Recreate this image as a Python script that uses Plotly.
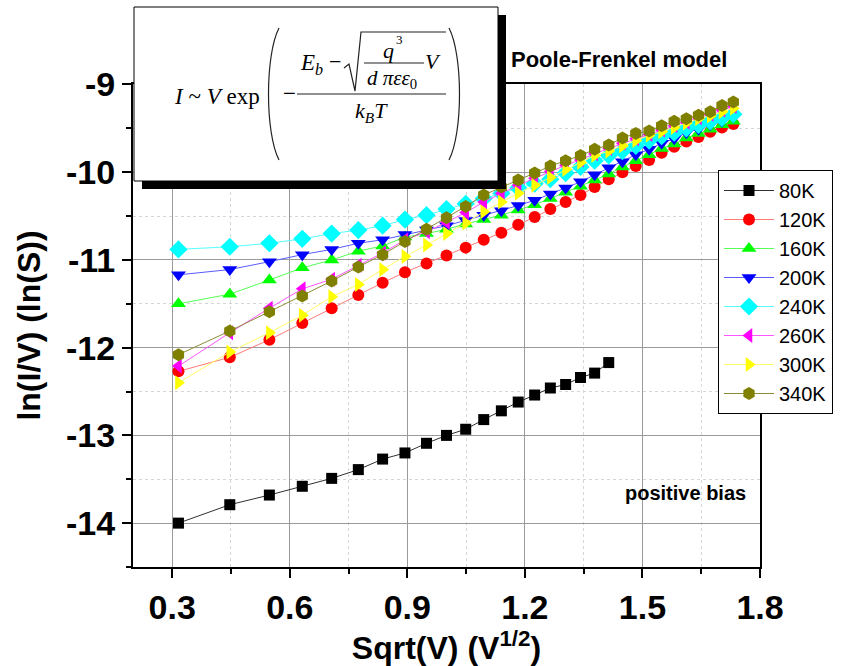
import plotly.graph_objects as go

# sqrt(V) positions (V = 0.1 ... 3.0 in 0.1 steps)
sqrt_v = [0.316, 0.447, 0.548, 0.632, 0.707, 0.775, 0.837, 0.894, 0.949, 1.000,
          1.049, 1.095, 1.140, 1.183, 1.225, 1.265, 1.304, 1.342, 1.378, 1.414,
          1.449, 1.483, 1.517, 1.549, 1.581, 1.612, 1.643, 1.673, 1.703, 1.732]

temps = ["80K", "120K", "160K", "200K", "240K", "260K", "300K", "340K"]

ln_80 = [-14.00, -13.79, -13.68, -13.58, -13.49, -13.39, -13.27, -13.20, -13.09, -13.00,
         -12.93, -12.82, -12.72, -12.62, -12.54, -12.46, -12.42, -12.34, -12.29, -12.17]
ln_120 = [-12.27, -12.11, -11.91, -11.72, -11.55, -11.40, -11.26, -11.14, -11.04, -10.95,
          -10.86, -10.77, -10.69, -10.60, -10.51, -10.42, -10.34, -10.26, -10.17, -10.08,
          -10.00, -9.93, -9.86, -9.78, -9.71, -9.65, -9.60, -9.54, -9.49, -9.45]
ln_160 = [-11.50, -11.39, -11.23, -11.09, -11.00, -10.90, -10.84, -10.74, -10.70, -10.65,
          -10.59, -10.54, -10.49, -10.43, -10.37, -10.30, -10.23, -10.16, -10.09, -10.02,
          -9.94, -9.87, -9.80, -9.73, -9.68, -9.61, -9.56, -9.51, -9.46, -9.42]
ln_200 = [-11.17, -11.11, -11.02, -10.94, -10.88, -10.81, -10.77, -10.71, -10.66, -10.61,
          -10.55, -10.49, -10.44, -10.38, -10.32, -10.25, -10.18, -10.11, -10.03, -9.95,
          -9.88, -9.80, -9.74, -9.67, -9.62, -9.55, -9.51, -9.46, -9.42, -9.37]
ln_240 = [-10.88, -10.85, -10.81, -10.76, -10.70, -10.66, -10.61, -10.54, -10.49, -10.42,
          -10.36, -10.30, -10.24, -10.18, -10.13, -10.08, -10.01, -9.94, -9.87, -9.81,
          -9.76, -9.70, -9.64, -9.59, -9.55, -9.50, -9.46, -9.42, -9.38, -9.34]
ln_260 = [-12.21, -11.83, -11.55, -11.33, -11.22, -11.06, -10.92, -10.77, -10.68, -10.57,
          -10.46, -10.34, -10.24, -10.15, -10.07, -9.99, -9.92, -9.86, -9.79, -9.73,
          -9.67, -9.62, -9.57, -9.52, -9.47, -9.43, -9.38, -9.34, -9.29, -9.25]
ln_300 = [-12.40, -12.05, -11.83, -11.63, -11.42, -11.28, -11.11, -10.96, -10.83, -10.70,
          -10.58, -10.45, -10.34, -10.24, -10.15, -10.06, -9.97, -9.89, -9.81, -9.76,
          -9.70, -9.64, -9.58, -9.54, -9.49, -9.44, -9.39, -9.36, -9.31, -9.27]
ln_340 = [-12.08, -11.81, -11.59, -11.41, -11.24, -11.08, -10.94, -10.79, -10.65, -10.52,
          -10.39, -10.26, -10.17, -10.09, -10.01, -9.93, -9.87, -9.81, -9.74, -9.69,
          -9.61, -9.56, -9.53, -9.47, -9.42, -9.39, -9.35, -9.31, -9.24, -9.20]

series = [ln_80, ln_120, ln_160, ln_200, ln_240, ln_260, ln_300, ln_340]

y_ticks = [-14, -13, -12, -11, -10, -9]
y_tick_text = ["-14", "-13", "-12", "-11", "-10", "-9"]
x_ticks = [0.3, 0.6, 0.9, 1.2, 1.5, 1.8]
x_tick_text = ["0.3", "0.6", "0.9", "1.2", "1.5", "1.8"]

marker_colors = ["#000000", "#ff0000", "#00ff00", "#0000ff", "#00ffff", "#ff00ff", "#ffff00", "#808000"]
line_colors = ["#303030", "#ff7a7a", "#55ff55", "#5a5aff", "#55ffff", "#ff55ff", "#ffff66", "#8c8c3a"]
symbols = ["square", "circle", "triangle-up", "triangle-down", "diamond",
           "triangle-left", "triangle-right", "hexagon"]
sizes = [11, 12, 13, 13, 14, 13, 13, 13]

fig = go.Figure()
for name, ys, mc, lc, sym, sz in zip(temps, series, marker_colors, line_colors, symbols, sizes):
    fig.add_trace(go.Scatter(
        x=sqrt_v[:len(ys)], y=ys, name=name, mode="lines+markers",
        line=dict(color=lc, width=1),
        marker=dict(symbol=sym, color=mc, size=sz, line=dict(width=0)),
    ))

# plot-area geometry in pixels (used to place the inset and labels)
W, H = 853, 666
L, R, T, B = 133, 760, 84, 567


def px(x):
    return (x - L) / (R - L)


def py(y):
    return (B - y) / (B - T)


shapes = []
annotations = []

# inset: drop shadow + white box
shapes.append(dict(type="rect", xref="paper", yref="paper",
                   x0=px(142), x1=px(506), y0=py(15), y1=py(189),
                   fillcolor="black", line=dict(width=0), layer="above"))
shapes.append(dict(type="rect", xref="paper", yref="paper",
                   x0=px(134), x1=px(498), y0=py(7), y1=py(181),
                   fillcolor="white", line=dict(color="black", width=1), layer="above"))


def ppath(s):
    shapes.append(dict(type="path", xref="paper", yref="paper", path=s,
                       line=dict(color="#222222", width=1.2), layer="above"))


def P(x, y):
    return f"{px(x):.5f},{py(y):.5f}"


# big parentheses
ppath(f"M{P(279, 28)} C{P(265, 55)} {P(265, 133)} {P(279, 160)}")
ppath(f"M{P(449, 28)} C{P(463, 55)} {P(463, 133)} {P(449, 160)}")
# main fraction bar
ppath(f"M{P(297, 94)} L{P(446, 94)}")
# radical sign with overbar
ppath(f"M{P(344, 68)} L{P(349, 64)} L{P(355, 91)} L{P(361, 32)} L{P(446, 32)}")
# inner fraction bar
ppath(f"M{P(364, 63)} L{P(424, 63)}")

serif = "Liberation Serif"


def txt(x, y, s, size=23, xanchor="center"):
    annotations.append(dict(xref="paper", yref="paper", x=px(x), y=py(y), text=s,
                            showarrow=False, xanchor=xanchor, yanchor="middle",
                            font=dict(family=serif, size=size, color="black")))


txt(217, 96, "<i>I</i> ~ <i>V</i> exp")
txt(289, 94, "\u2212")
txt(311, 64, "<i>E</i><sub><i>b</i></sub>", size=23)
txt(335, 62, "\u2212", size=22)
txt(388, 51, "<i>q</i>", size=22)
txt(399, 40, "3", size=13)
txt(392, 79, "<i>d</i> <i>\u03c0\u03b5\u03b5</i><sub>0</sub>", size=21)
txt(433, 62, "<i>V</i>", size=22)
txt(371, 112, "<i>k</i><sub><i>B</i></sub><i>T</i>", size=22)

sans = "Liberation Sans, Arial, sans-serif"
annotations.append(dict(xref="paper", yref="paper", x=px(619), y=py(60),
                        text="<b>Poole-Frenkel model</b>", showarrow=False,
                        xanchor="center", yanchor="middle",
                        font=dict(family=sans, size=22, color="black")))
annotations.append(dict(xref="paper", yref="paper", x=px(685), y=py(493),
                        text="<b>positive bias</b>", showarrow=False,
                        xanchor="center", yanchor="middle",
                        font=dict(family=sans, size=20, color="black")))

axis_common = dict(
    showline=True, linecolor="black", linewidth=2, mirror=True,
    ticks="outside", ticklen=9, tickwidth=2, tickcolor="black",
    showgrid=True, gridcolor="#9a9a9a", gridwidth=1,
    zeroline=False, automargin=False,
    tickfont=dict(family=sans, size=34, color="black", weight="bold"),
)

fig.update_layout(
    width=W, height=H, template="none",
    margin=dict(l=L, r=W - R, t=T, b=H - B, pad=0),
    paper_bgcolor="white", plot_bgcolor="white",
    showlegend=True,
    legend=dict(x=px(718), y=py(170), xanchor="left", yanchor="top",
                bgcolor="white", bordercolor="black", borderwidth=1,
                font=dict(family=sans, size=20, color="black"),
                tracegroupgap=0, itemwidth=50),
    xaxis=dict(range=[0.2, 1.8], tickvals=x_ticks, ticktext=x_tick_text,
               title=dict(text="<b>Sqrt(V) (V<sup>1/2</sup>)</b>", standoff=3,
                          font=dict(family=sans, size=32, color="black")),
               minor=dict(tick0=0.3, dtick=0.15, ticks="outside", ticklen=5,
                          tickcolor="black", showgrid=True, gridcolor="#d6d6d6",
                          griddash="dot"),
               **axis_common),
    yaxis=dict(range=[-14.5, -8.995], tickvals=y_ticks, ticktext=y_tick_text,
               title=dict(text="<b>ln(I/V) (ln(S))</b>", standoff=16,
                          font=dict(family=sans, size=32, color="black")),
               minor=dict(tick0=-14, dtick=0.5, ticks="outside", ticklen=5,
                          tickcolor="black", showgrid=True, gridcolor="#d6d6d6",
                          griddash="dot"),
               **axis_common),
    shapes=shapes,
    annotations=annotations,
)

fig.write_html("out.html")
